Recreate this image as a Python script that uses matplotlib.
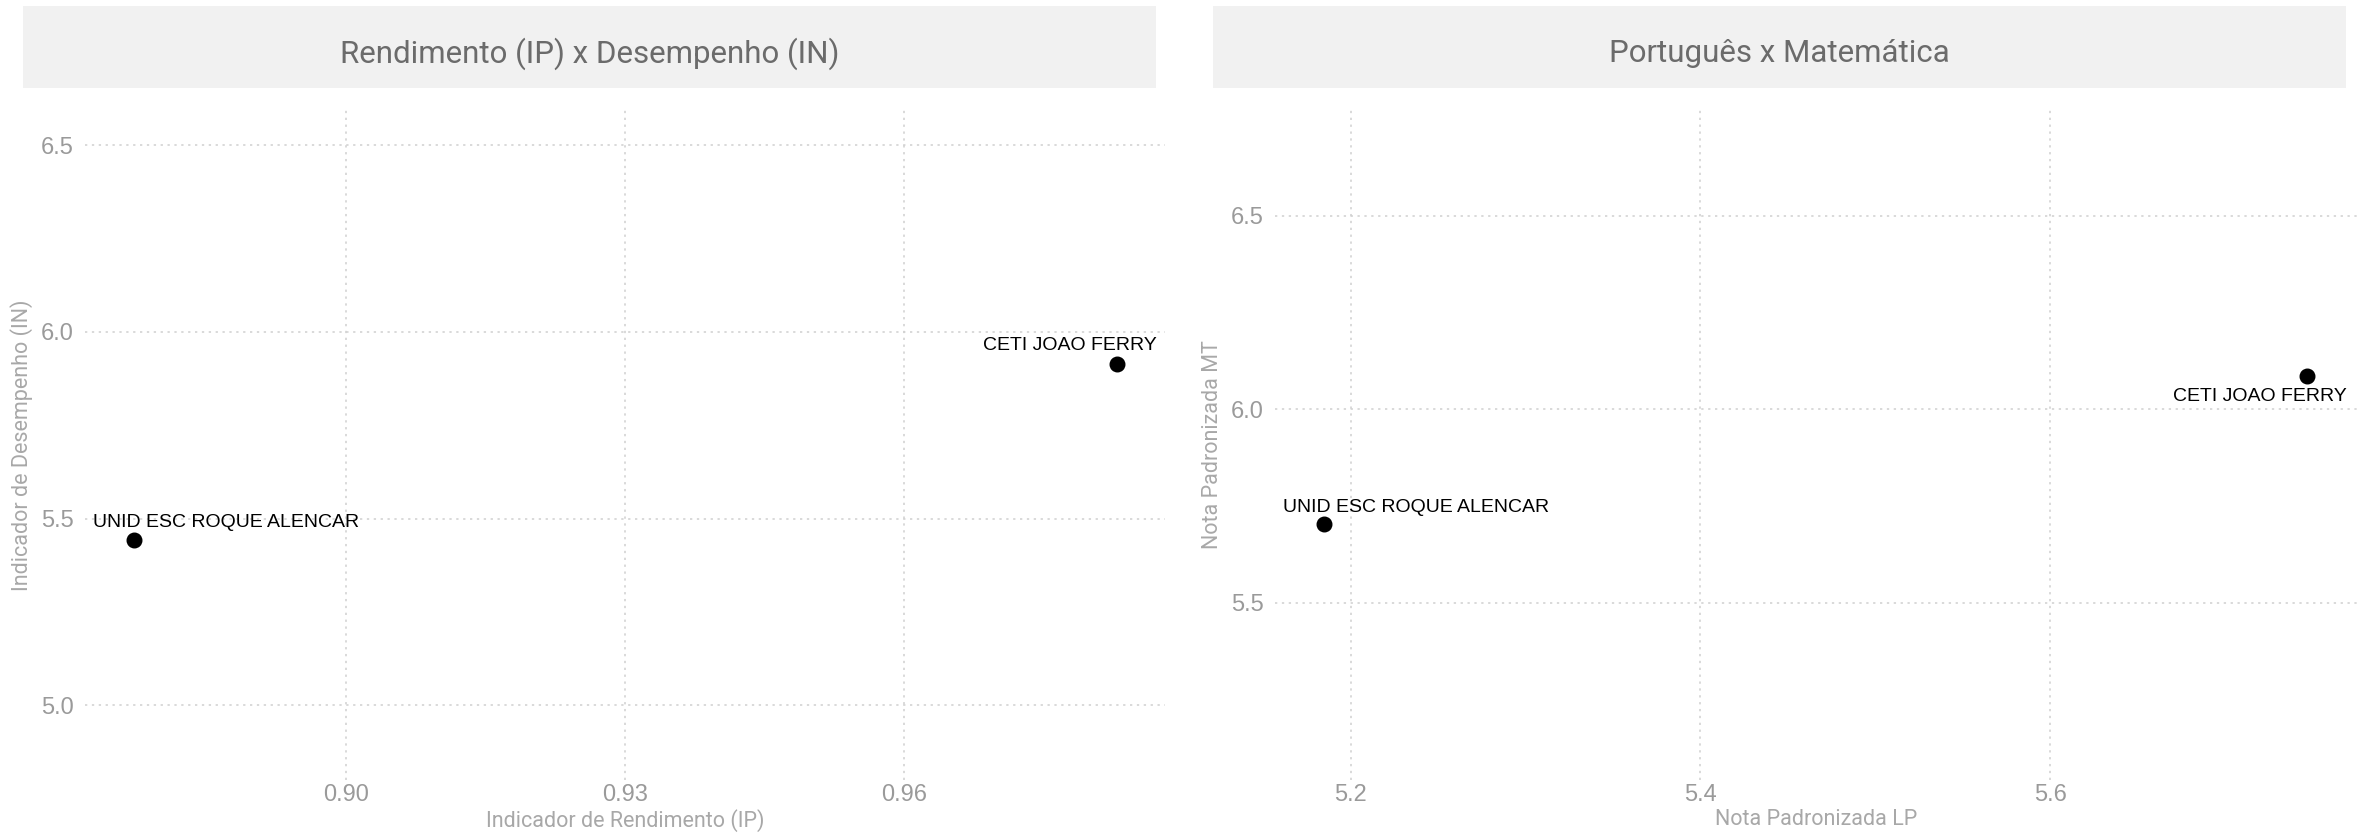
import matplotlib.pyplot as plt
from matplotlib.patches import Rectangle

# Data
escolas = ["UNID ESC ROQUE ALENCAR", "CETI JOAO FERRY"]
ip = [0.8772, 0.9829]
indicador_in = [5.443, 5.915]
nota_lp = [5.185, 5.747]
nota_mt = [5.703, 6.086]

W, H = 2369, 836
narrow = ["Liberation Sans Narrow", "Roboto", "DejaVu Sans"]
regular = ["Liberation Sans", "DejaVu Sans"]
grey_tick = "#9a9a9a"
grey_lab = "#a8a8a8"

fig = plt.figure(figsize=(W / 100, H / 100), dpi=100)


def px_rect(x0, y0, x1, y1):
    return [x0 / W, 1 - y1 / H, (x1 - x0) / W, (y1 - y0) / H]


def strip(x0, x1, title):
    r = px_rect(x0, 6, x1, 88)
    fig.patches.append(Rectangle((r[0], r[1]), r[2], r[3], transform=fig.transFigure,
                                 facecolor="#f1f1f1", edgecolor="none"))
    fig.text(r[0] + r[2] / 2, 1 - 54 / H, title, ha="center", va="center",
             fontsize=22.5, color="#6b6b6b", family=narrow)


def panel(rect, x, y, xlim, ylim, xticks, yticks, xfmt, xlabel, ylabel, offsets):
    ax = fig.add_axes(rect)
    ax.scatter(x, y, s=110, color="black", zorder=3)
    for xi, yi, name, off in zip(x, y, escolas, offsets):
        ax.annotate(name, (xi, yi), xytext=off, textcoords="offset pixels",
                    ha="center", va="center", fontsize=14, color="black", family=regular)
    ax.set_xlim(xlim)
    ax.set_ylim(ylim)
    ax.set_xticks(xticks)
    ax.set_xticklabels([xfmt.format(v) for v in xticks])
    ax.set_yticks(yticks)
    ax.set_yticklabels(["{:.1f}".format(v) for v in yticks])
    ax.grid(True, linestyle=(0, (1.5, 3)), color="#d0d0d0", linewidth=1.1)
    for s in ax.spines.values():
        s.set_visible(False)
    ax.tick_params(length=0, labelsize=17, labelcolor=grey_tick)
    ax.tick_params(axis="x", pad=3)
    ax.tick_params(axis="y", pad=8)
    for lab in ax.get_xticklabels() + ax.get_yticklabels():
        lab.set_family(regular)
    ax.set_xlabel(xlabel, fontsize=15.5, color=grey_lab, family=narrow, labelpad=2)
    ax.set_ylabel(ylabel, fontsize=15.5, color=grey_lab, family=narrow, labelpad=6)
    return ax


strip(23, 1156, "Rendimento (IP) x Desempenho (IN)")
strip(1213, 2346, "Português x Matemática")

panel(px_rect(85, 110, 1165, 780), ip, indicador_in, (0.8719, 0.9881), (4.80, 6.594),
      [0.90, 0.93, 0.96], [5.0, 5.5, 6.0, 6.5], "{:.2f}",
      "Indicador de Rendimento (IP)", "Indicador de Desempenho (IN)",
      [(92, 17), (-47, 18)])

panel(px_rect(1275, 110, 2357, 780), nota_lp, nota_mt, (5.1568, 5.7754), (5.042, 6.774),
      [5.2, 5.4, 5.6], [5.5, 6.0, 6.5], "{:.1f}",
      "Nota Padronizada LP", "Nota Padronizada MT",
      [(92, 17), (-47, -20)])

fig.savefig("out.png", dpi=100, facecolor="white")
